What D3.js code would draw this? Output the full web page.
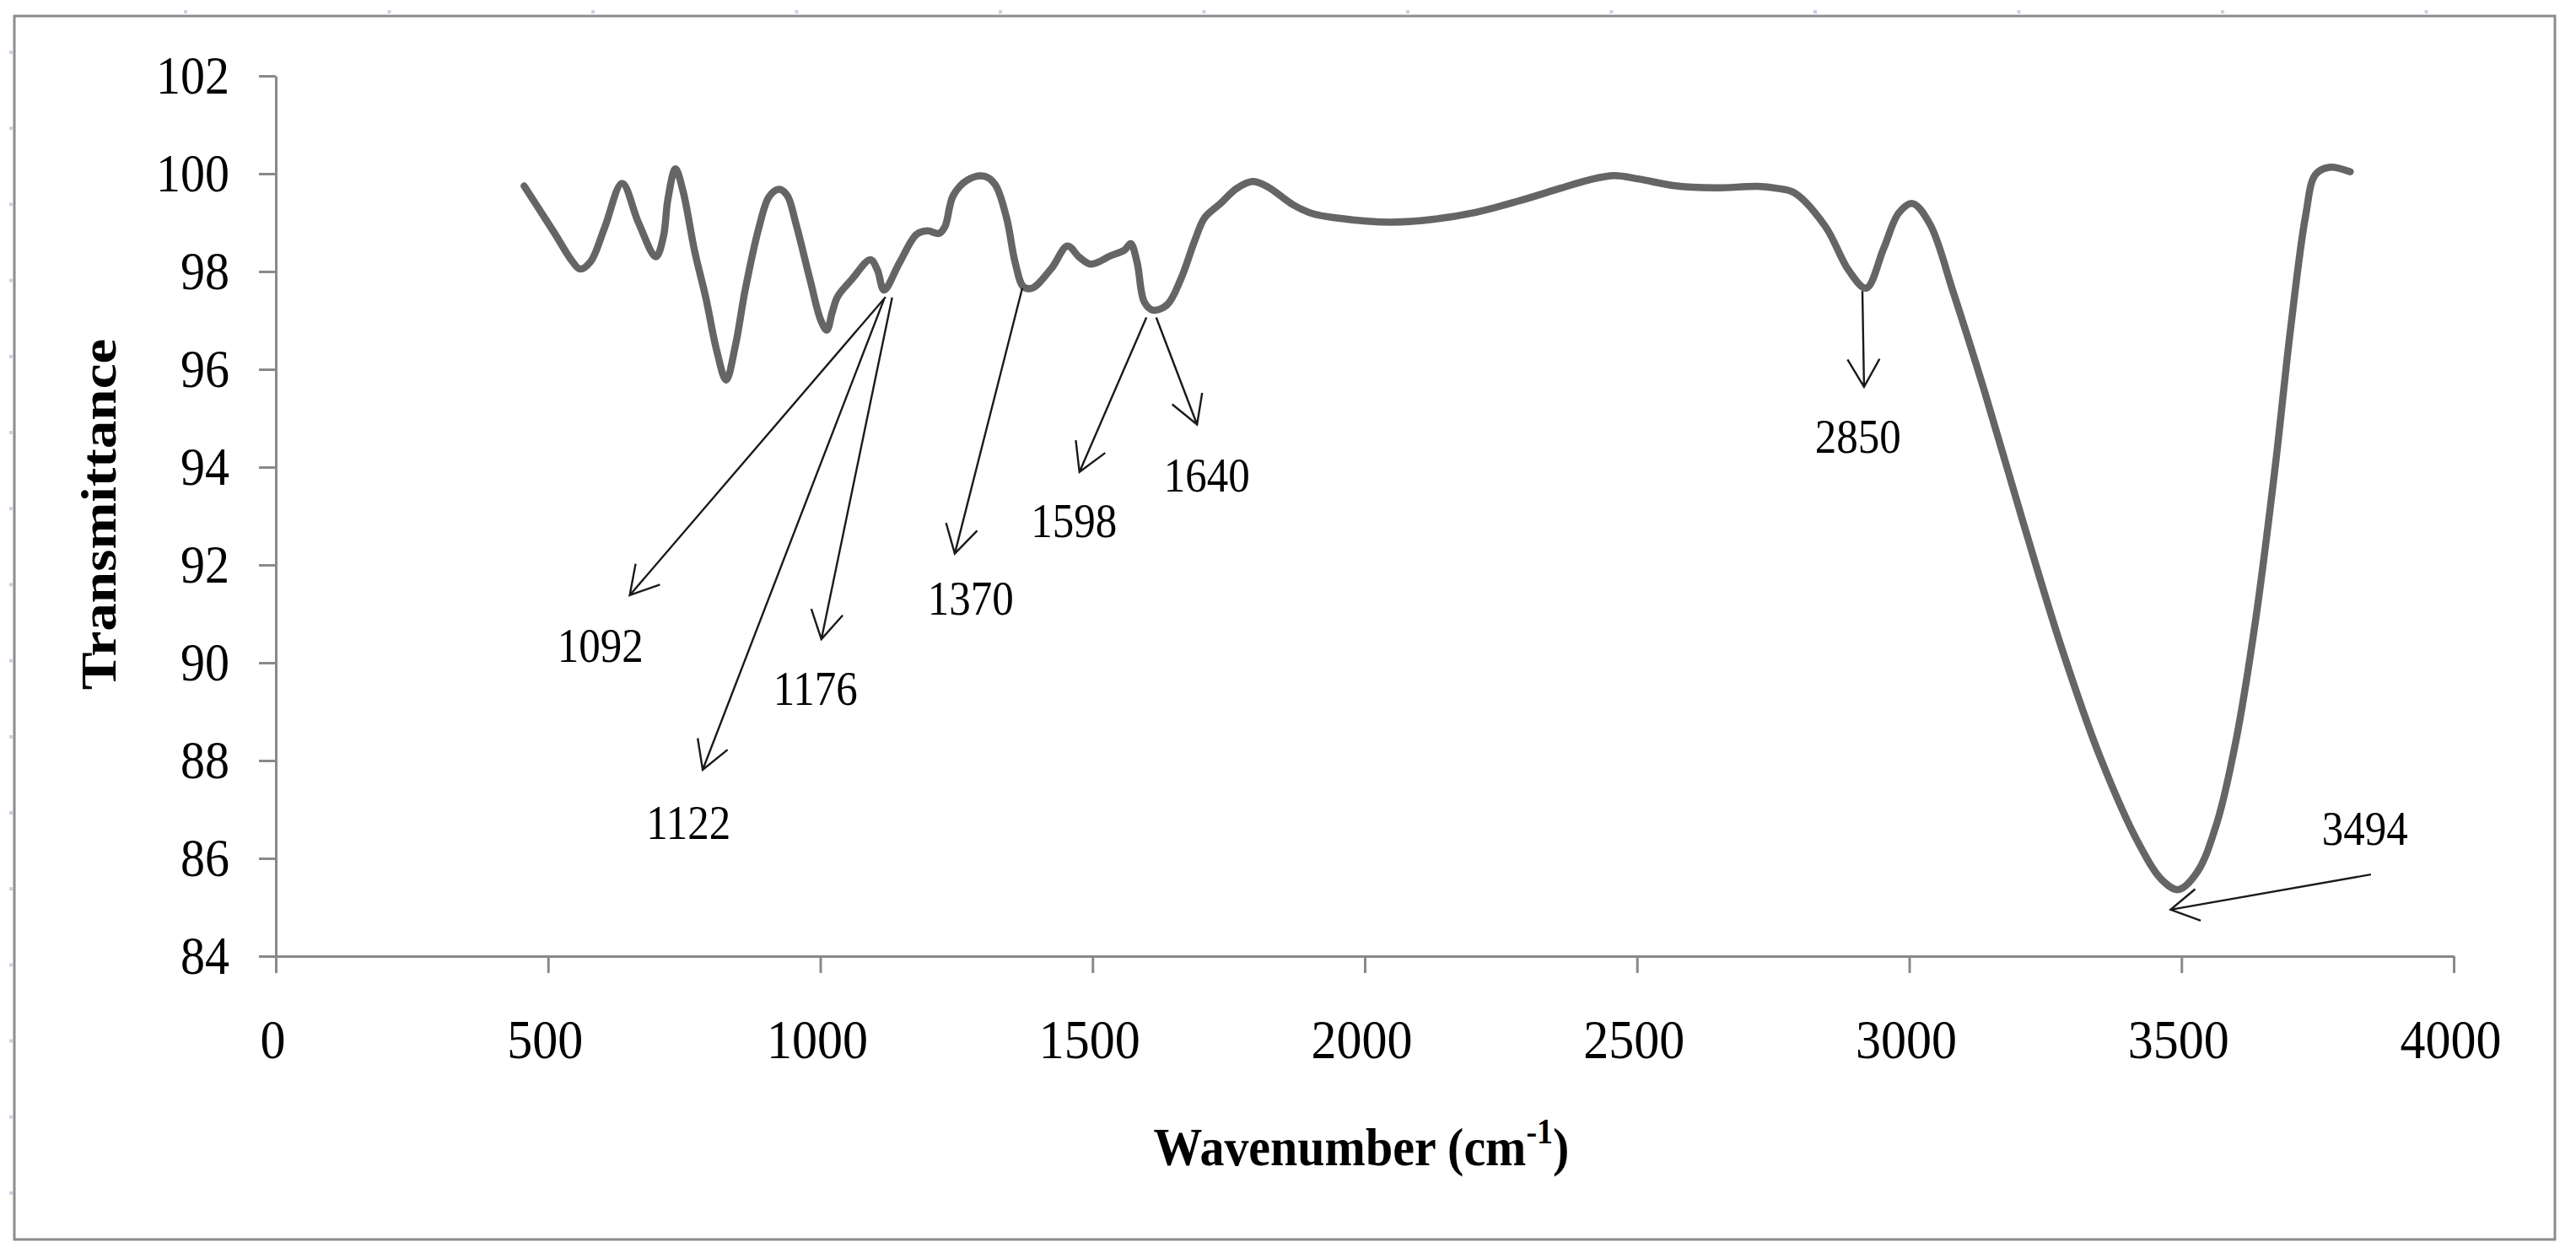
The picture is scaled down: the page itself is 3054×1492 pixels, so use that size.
<!DOCTYPE html>
<html>
<head>
<meta charset="utf-8">
<script src="https://cdn.jsdelivr.net/npm/d3@7"></script>
<style>
  html, body { margin: 0; padding: 0; background: #fff; }
  svg { display: block; }
  text { font-family: "Liberation Serif", "Times New Roman", serif; fill: #000; }
</style>
</head>
<body>
<svg id="chart" width="3054" height="1492"></svg>
<script>
// ---- data ----
const wavenumber = [456, 511, 545, 559, 578, 604, 636, 666, 698, 712, 720, 734, 748, 769, 790, 810, 827, 844, 862, 888, 906, 924, 939, 955, 981, 1001, 1012, 1022, 1032, 1058, 1092, 1105, 1117, 1146, 1177, 1197, 1218, 1229, 1244, 1270, 1301, 1321, 1342, 1358, 1373, 1389, 1425, 1454, 1476, 1497, 1533, 1559, 1570, 1582, 1595, 1611, 1637, 1662, 1688, 1706, 1734, 1765, 1794, 1822, 1869, 1905, 1952, 2003, 2050, 2127, 2204, 2282, 2359, 2411, 2458, 2504, 2566, 2643, 2721, 2757, 2789, 2846, 2889, 2921, 2953, 2981, 3006, 3038, 3081, 3138, 3209, 3280, 3351, 3423, 3465, 3494, 3529, 3565, 3600, 3636, 3672, 3700, 3728, 3746, 3771, 3810];
const transmittance = [99.75, 98.8, 98.2, 98.05, 98.2, 98.9, 99.8, 99.0, 98.3, 98.72, 99.47, 100.1, 99.64, 98.43, 97.45, 96.37, 95.78, 96.48, 97.62, 98.93, 99.53, 99.68, 99.56, 98.99, 97.84, 97.0, 96.8, 97.17, 97.49, 97.84, 98.24, 98.03, 97.62, 98.19, 98.76, 98.83, 98.78, 98.92, 99.55, 99.87, 99.95, 99.78, 99.1, 98.18, 97.69, 97.66, 98.07, 98.52, 98.29, 98.15, 98.32, 98.44, 98.57, 98.18, 97.38, 97.21, 97.32, 97.84, 98.64, 99.1, 99.38, 99.7, 99.84, 99.73, 99.36, 99.18, 99.09, 99.03, 99.01, 99.07, 99.21, 99.44, 99.7, 99.87, 99.96, 99.89, 99.76, 99.71, 99.74, 99.7, 99.61, 98.92, 98.02, 97.66, 98.47, 99.2, 99.39, 98.97, 97.57, 95.56, 92.88, 90.3, 88.06, 86.27, 85.55, 85.36, 85.72, 86.72, 88.4, 90.86, 93.99, 96.79, 99.14, 99.98, 100.13, 100.04];

const xTicks = [0, 500, 1000, 1500, 2000, 2500, 3000, 3500, 4000];
const yTicks = [84, 86, 88, 90, 92, 94, 96, 98, 100, 102];

// peak annotations: label text, label position, arrow start and arrow tip (data units)
const peakLabels = ["1092", "1122", "1176", "1370", "1598", "1640", "2850", "3494"];
const labelW = [596, 758, 991, 1276, 1466, 1710, 2906, 3837];
const labelT = [90.02, 86.40, 89.14, 90.98, 92.57, 93.50, 94.29, 86.28];
const arrowFromW = [1120, 1117, 1132, 1371, 1599, 1617, 2914, 3848];
const arrowFromT = [97.48, 97.43, 97.47, 97.66, 97.06, 97.06, 97.60, 85.67];
const arrowToW = [650, 784, 1002, 1247, 1476, 1692, 2917, 3480];
const arrowToT = [91.38, 87.81, 90.48, 92.23, 93.90, 94.87, 95.64, 84.95];

const xTitle = "Wavenumber";
const yTitle = "Transmittance";

// ---- drawing ----
const svg = d3.select("#chart");
const STRETCH = 1.1;
const axisColor = "#898989";

const x = d3.scaleLinear().domain([0, 4000]).range([327, 2909]);
const y = d3.scaleLinear().domain([84, 102]).range([1134, 90]);

// outer frame
svg.append("rect")
  .attr("x", 17).attr("y", 19).attr("width", 3012).attr("height", 1451)
  .attr("fill", "none").attr("stroke", "#8c8c8c").attr("stroke-width", 3);

// faint ruler marks outside frame
const marks = svg.append("g").attr("fill", "#c9d1e3");
d3.range(220, 3000, 241.5).forEach(px => marks.append("rect").attr("x", px - 2).attr("y", 12).attr("width", 4).attr("height", 4));
d3.range(62, 1470, 90.2).forEach(py => marks.append("rect").attr("x", 11).attr("y", py - 2).attr("width", 4).attr("height", 4));

// axes
const yAxis = svg.append("g").attr("transform", `translate(${x(0)},0)`)
  .call(d3.axisLeft(y).tickValues(yTicks).tickFormat(d3.format("d")).tickSize(20).tickSizeOuter(0));
const xAxis = svg.append("g").attr("transform", `translate(0,${y(84)})`)
  .call(d3.axisBottom(x).tickValues(xTicks).tickFormat(d3.format("d")).tickSize(20).tickSizeOuter(0));

[yAxis, xAxis].forEach(g => {
  g.selectAll("path.domain").attr("stroke", axisColor).attr("stroke-width", 3);
  g.selectAll(".tick line").attr("stroke", axisColor).attr("stroke-width", 3);
});

yAxis.selectAll(".tick text")
  .attr("x", null).attr("dy", null)
  .attr("font-family", "Liberation Serif, Times New Roman, serif")
  .attr("font-size", 58).attr("fill", "#000")
  .attr("text-anchor", "end")
  .attr("transform", `translate(-55,20) scale(1,${STRETCH})`);

xAxis.selectAll(".tick text")
  .attr("y", null).attr("dy", null)
  .attr("font-family", "Liberation Serif, Times New Roman, serif")
  .attr("font-size", 60).attr("fill", "#000")
  .attr("text-anchor", "middle")
  .attr("transform", `translate(-4,121) scale(1,${STRETCH})`);

// spectrum line
const line = d3.line()
  .x((d, i) => x(wavenumber[i]))
  .y((d, i) => y(transmittance[i]))
  .curve(d3.curveCatmullRom.alpha(0.5));

svg.append("path")
  .attr("d", line(wavenumber))
  .attr("fill", "none")
  .attr("stroke", "#656565")
  .attr("stroke-width", 8.5)
  .attr("stroke-linejoin", "round")
  .attr("stroke-linecap", "round");

// arrows
const ann = svg.append("g");
peakLabels.forEach((lab, i) => {
  const x0 = x(arrowFromW[i]), y0 = y(arrowFromT[i]);
  const x1 = x(arrowToW[i]), y1 = y(arrowToT[i]);
  const back = Math.atan2(y0 - y1, x0 - x1);
  const L = 38, a = Math.PI / 6;
  const p1 = [x1 + L * Math.cos(back + a), y1 + L * Math.sin(back + a)];
  const p2 = [x1 + L * Math.cos(back - a), y1 + L * Math.sin(back - a)];
  const p = d3.path();
  p.moveTo(x0, y0); p.lineTo(x1, y1);
  p.moveTo(p1[0], p1[1]); p.lineTo(x1, y1); p.lineTo(p2[0], p2[1]);
  ann.append("path").attr("d", p.toString())
    .attr("fill", "none").attr("stroke", "#1a1a1a").attr("stroke-width", 2.4)
    .attr("stroke-linejoin", "miter");
  ann.append("text")
    .attr("font-size", 51).attr("text-anchor", "middle")
    .attr("transform", `translate(${x(labelW[i])},${y(labelT[i])}) scale(1,${STRETCH})`)
    .text(lab);
});

// axis titles
const xt = svg.append("text")
  .attr("font-size", 58).attr("font-weight", "bold").attr("text-anchor", "middle")
  .attr("transform", `translate(${(x(0) + x(4000)) / 2 - 4},1382) scale(1,${STRETCH})`);
xt.append("tspan").text(xTitle + " (cm");
xt.append("tspan").attr("font-size", 38).attr("dy", -24).text("-1");
xt.append("tspan").attr("dy", 24).text(")");

svg.append("text")
  .attr("font-size", 60).attr("font-weight", "bold").attr("text-anchor", "middle")
  .attr("transform", `translate(137,610) rotate(-90) scale(1.12,1)`)
  .text(yTitle);
</script>
</body>
</html>
